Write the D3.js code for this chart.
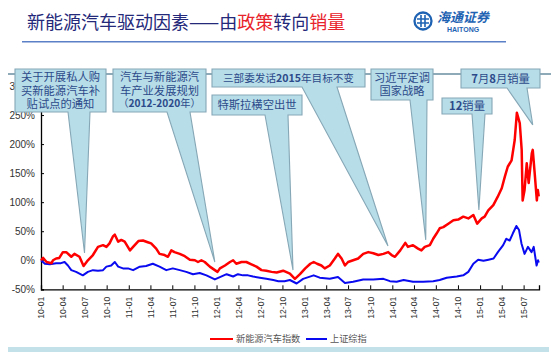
<!DOCTYPE html>
<html><head><meta charset="utf-8">
<script src="https://cdn.jsdelivr.net/npm/d3@7"></script>
<style>body{margin:0;background:#fff}svg{display:block}</style>
</head><body><svg id="c" width="551" height="352"></svg>
<script>
// ---------- DATA ----------
const redDates = ["2010-01-01","2010-01-10","2010-01-24","2010-02-14","2010-02-20","2010-03-05","2010-03-18","2010-04-02","2010-04-16","2010-05-07","2010-05-20","2010-06-10","2010-06-27","2010-07-15","2010-08-05","2010-08-26","2010-09-16","2010-09-30","2010-10-13","2010-10-27","2010-11-04","2010-11-18","2010-12-01","2010-12-15","2011-01-06","2011-01-19","2011-02-10","2011-03-01","2011-03-21","2011-04-04","2011-04-25","2011-05-09","2011-05-30","2011-06-13","2011-06-27","2011-07-10","2011-08-01","2011-08-22","2011-09-12","2011-10-03","2011-10-16","2011-10-30","2011-11-13","2011-12-04","2011-12-25","2012-01-05","2012-01-15","2012-02-05","2012-02-26","2012-03-10","2012-03-23","2012-04-14","2012-05-04","2012-05-25","2012-06-15","2012-07-06","2012-07-26","2012-08-17","2012-09-07","2012-10-04","2012-11-01","2012-11-22","2012-12-13","2013-01-04","2013-01-25","2013-02-08","2013-02-22","2013-03-12","2013-03-26","2013-04-16","2013-05-07","2013-05-20","2013-06-04","2013-06-18","2013-07-01","2013-07-22","2013-08-12","2013-09-02","2013-09-23","2013-10-14","2013-11-04","2013-11-25","2013-12-15","2013-12-29","2014-01-12","2014-02-03","2014-02-24","2014-03-07","2014-03-28","2014-04-18","2014-05-02","2014-05-16","2014-06-06","2014-06-20","2014-07-04","2014-07-17","2014-08-01","2014-08-22","2014-09-12","2014-10-02","2014-10-23","2014-11-13","2014-12-04","2014-12-20","2015-01-08","2015-01-20","2015-02-04","2015-02-25","2015-03-15","2015-04-01","2015-04-14","2015-04-26","2015-05-12","2015-05-25","2015-06-03","2015-06-15","2015-06-23","2015-06-27","2015-07-05","2015-07-14","2015-07-22","2015-08-04","2015-08-08","2015-08-16","2015-08-25","2015-08-29","2015-09-02"];
const redValues = [0,4,-3,-5,0,3,4,14,14,6,11,6,-10,0,9,23,26,23,29,41,44,32,35,32,17,23,33,34,31,29,20,11,9,6,17,14,11,7,1,0,-3,0,-3,-11,-17,-20,-14,-9,-3,0,-6,-3,-3,-7,-11,-17,-18,-20,-21,-18,-23,-32,-24,-14,-6,-3,-6,-9,-14,-9,3,11,3,-9,-3,0,3,11,14,12,9,11,14,9,6,17,30,23,26,20,17,23,26,37,46,55,57,63,69,70,75,72,78,63,72,75,86,95,109,124,144,161,172,207,254,236,190,103,121,167,133,184,190,150,103,121,110];

const blueDates = ["2010-01-01","2010-01-17","2010-02-07","2010-03-05","2010-03-25","2010-04-09","2010-04-23","2010-05-07","2010-05-27","2010-06-24","2010-07-15","2010-08-05","2010-08-26","2010-09-16","2010-09-30","2010-10-20","2010-11-04","2010-11-18","2010-12-08","2010-12-29","2011-01-19","2011-02-16","2011-03-14","2011-04-11","2011-05-09","2011-06-06","2011-07-03","2011-08-01","2011-08-28","2011-09-25","2011-10-23","2011-11-20","2011-12-25","2012-01-15","2012-02-12","2012-03-10","2012-03-30","2012-04-20","2012-05-11","2012-06-01","2012-06-29","2012-07-26","2012-08-24","2012-09-14","2012-10-10","2012-11-01","2012-11-29","2012-12-26","2013-02-08","2013-03-05","2013-04-16","2013-05-20","2013-06-18","2013-07-22","2013-09-02","2013-10-14","2013-11-25","2013-12-22","2014-01-19","2014-02-17","2014-03-28","2014-05-09","2014-06-20","2014-07-17","2014-08-15","2014-09-26","2014-10-23","2014-11-13","2014-12-04","2014-12-24","2015-01-15","2015-02-05","2015-02-26","2015-03-16","2015-04-07","2015-04-20","2015-05-04","2015-05-17","2015-06-01","2015-06-12","2015-06-22","2015-07-05","2015-07-19","2015-08-03","2015-08-12","2015-08-24","2015-08-30","2015-09-02"];
const blueValues = [0,-6,-7,-5,-5,-3,-9,-17,-20,-26,-20,-17,-18,-17,-11,-9,-3,-11,-14,-14,-17,-11,-10,-6,-11,-17,-14,-17,-20,-24,-22,-26,-33,-29,-24,-28,-24,-26,-26,-28,-30,-32,-34,-36,-36,-34,-40,-32,-26,-30,-32,-29,-39,-37,-33,-33,-32,-36,-37,-34,-37,-37,-36,-34,-30,-28,-26,-20,-6,1,-1,1,3,14,26,37,34,46,59,52,29,11,23,14,23,-9,0,-4];

const yTicks = [-50,0,50,100,150,200,250,300];
const seriesNames = ["新能源汽车指数","上证综指"];
const titleParts = [["新能源汽车驱动因素——由","n"],["政策","r"],["转向","n"],["销量","r"]];

// callouts: text lines, tip (date, value)
const calloutLines = [
  ["关于开展私人购","买新能源汽车补","贴试点的通知"],
  ["汽车与新能源汽","车产业发展规划","（2012-2020年）"],
  ["特斯拉横空出世"],
  ["三部委发话2015年目标不变"],
  ["习近平定调","国家战略"],
  ["12销量"],
  ["7月8月销量"]
];
const calloutTipDates = ["2010-07-01","2011-12-25","2012-11-14","2013-12-14","2014-05-20","2014-12-27","2015-08-08"];
const calloutTipValues = [12.5,-3,-17,24.5,35,86.5,233];

// ---------- LAYOUT ----------
const boxes = [ // x0,y0,x1,y1,base0,base1
  [15,69,106,112,68,90],
  [113,69,206,112,167,190],
  [212,95,302,115,265,288],
  [212,69,365,87,302,337],
  [371,69,433,100,410,427],
  [442,98,492,114,472,485],
  [461,69,540,88,507,527]
];
const boxFont = [[11.3,11.3,11.3],[11.3,11.3,10.2],[11.3],[10.6],[11.2,11.2],[11.3],[11.3]];

const svg = d3.select("#c");
svg.append("rect").attr("width",551).attr("height",352).attr("fill","#fff");

const parse = d3.timeParse("%Y-%m-%d");
const x = d3.scaleTime().domain([parse("2010-01-01"), parse("2015-09-03")]).range([41,539]);
const y = d3.scaleLinear().domain([-50,300]).range([289.3,86]);

// title
const t = svg.append("text").attr("x",27).attr("y",29)
  .attr("font-family","'Noto Sans CJK SC', sans-serif").attr("font-size",18);
titleParts.forEach(p => t.append("tspan").text(p[0]).attr("fill", p[1]==="r" ? "#E8232B" : "#25297A"));
svg.append("line").attr("x1",22).attr("x2",506).attr("y1",41.7).attr("y2",41.7)
  .attr("stroke","#5B80C8").attr("stroke-width",1.5);

// logo
const lg = svg.append("g").attr("transform","translate(423,21)");
lg.append("circle").attr("r",8.5).attr("fill","none").attr("stroke","#1E63B3").attr("stroke-width",2.3);
lg.append("path").attr("d","M-6,-2 H6 M-6,2 H6 M-2,-6 V6 M2,-6 V6").attr("stroke","#1E63B3").attr("stroke-width",1.6).attr("fill","none");
svg.append("text").attr("x",437).attr("y",22).attr("font-family","'Noto Sans CJK SC', sans-serif")
  .attr("font-size",13).attr("font-style","italic").attr("font-weight","bold").attr("fill","#1E63B3").text("海通证券");
svg.append("text").attr("x",447).attr("y",32).attr("font-family","'Liberation Sans', Arial, sans-serif")
  .attr("font-size",7).attr("font-weight","bold").attr("fill","#1E63B3").text("HAITONG");

// axes
const yAxis = d3.axisLeft(y).tickValues(yTicks).tickSize(-3).tickPadding(6).tickFormat(d => d + "%");
const gy = svg.append("g").attr("transform","translate(41,0)").call(yAxis);
gy.selectAll("text").attr("font-family","'Liberation Sans', Arial, sans-serif").attr("font-size",10).attr("fill","#333");
gy.select(".domain").attr("stroke","#000").attr("stroke-width",1.3);
gy.selectAll(".tick line").attr("stroke","#000");

const xAxis = d3.axisBottom(x).ticks(d3.timeMonth.every(3)).tickSize(-4).tickFormat(d3.timeFormat("%y-%m"));
const gx = svg.append("g").attr("transform","translate(0,289.3)").call(xAxis);
gx.select(".domain").attr("stroke","#000").attr("stroke-width",1.3);
gx.selectAll(".tick line").attr("stroke","#000");
gx.selectAll("text").attr("font-family","'Liberation Sans', Arial, sans-serif").attr("font-size",8.6).attr("fill","#333")
  .attr("transform","rotate(-90)").attr("text-anchor","end").attr("dy","0.33em").attr("dx",0).attr("x",-7.5).attr("y",0);

// lines
const line = d3.line().x(d => x(d[0])).y(d => y(d[1]));
const blue = blueDates.map((d,i) => [parse(d), blueValues[i]]);
const red = redDates.map((d,i) => [parse(d), redValues[i]]);
svg.append("path").datum(blue).attr("d",line).attr("fill","none").attr("stroke","#0A0AF0").attr("stroke-width",2).attr("stroke-linejoin","round");
svg.append("path").datum(red).attr("d",line).attr("fill","none").attr("stroke","#FF0000").attr("stroke-width",2.5).attr("stroke-linejoin","round");

// top connector line
svg.append("line").attr("x1",8).attr("x2",551).attr("y1",74).attr("y2",74).attr("stroke","#8EAAB8").attr("stroke-width",2);

// callouts
boxes.forEach((b,i) => {
  const tx = x(parse(calloutTipDates[i])), ty = y(calloutTipValues[i]);
  const [x0,y0,x1,y1,b0,b1] = b;
  svg.append("path").attr("d",`M${x0},${y0}H${x1}V${y1}H${b1}L${tx},${ty}L${b0},${y1}H${x0}Z`)
    .attr("fill","#B7DDE8").attr("stroke","#86A7B6").attr("stroke-width",1.1);
  const lines = calloutLines[i];
  const lh = 13.2;
  const cy = (y0+y1)/2 - (lines.length-1)*lh/2;
  const cx = (x0+x1)/2;
  const tt = svg.append("text").attr("text-anchor","middle")
    .attr("font-family","'Noto Sans CJK SC', sans-serif").attr("fill","#2C4A8A");
  lines.forEach((ln,j) => {
    const row = tt.append("tspan").attr("x",cx).attr("y",cy + j*lh).attr("dy","0.36em").attr("font-size",boxFont[i][j]);
    ln.split(/(\d[\d\-]*)/).filter(s => s.length).forEach(s => {
      row.append("tspan").text(s).attr("font-weight", /\d/.test(s) ? "bold" : "normal");
    });
  });
});

// legend
const lgd = svg.append("g");
lgd.append("line").attr("x1",210).attr("x2",233).attr("y1",339).attr("y2",339).attr("stroke","#FF0000").attr("stroke-width",2);
lgd.append("text").attr("x",236).attr("y",339).attr("dy","0.35em").attr("font-family","'Noto Sans CJK SC', sans-serif").attr("font-size",9.2).attr("fill","#555").text(seriesNames[0]);
lgd.append("line").attr("x1",306).attr("x2",327).attr("y1",339).attr("y2",339).attr("stroke","#0A0AF0").attr("stroke-width",2);
lgd.append("text").attr("x",330).attr("y",339).attr("dy","0.35em").attr("font-family","'Noto Sans CJK SC', sans-serif").attr("font-size",9.2).attr("fill","#555").text(seriesNames[1]);

// bottom band
svg.append("rect").attr("x",8).attr("y",347).attr("width",541).attr("height",5).attr("fill","#C2E1E9");
</script></body></html>
